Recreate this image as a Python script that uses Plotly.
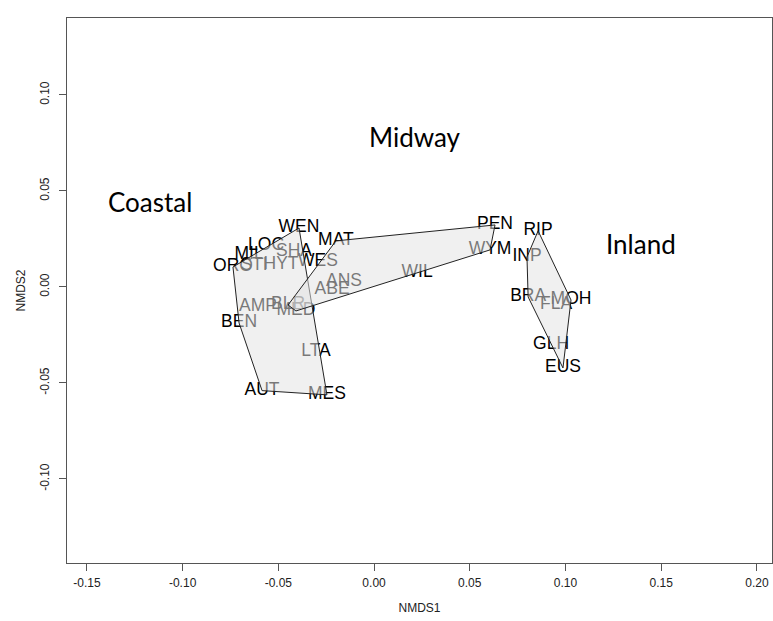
import plotly.graph_objects as go

# Site scores (NMDS1, NMDS2)
sites = ["ORO", "MIL", "LOC", "WEN", "SHA", "STI", "HYT", "WES", "MAT", "ANS", "ABE",
         "AMP", "BLR", "MED", "BEN", "LTA", "AUT", "MES", "PEN", "WYM", "WIL",
         "RIP", "INP", "BRA", "MOH", "FLA", "GLH", "EUS"]
nmds1 = [-0.0737, -0.0653, -0.0564, -0.0392, -0.0418, -0.0627, -0.0486, -0.0293, -0.0199, -0.0157, -0.0219,
         -0.0606, -0.0449, -0.0408, -0.0705, -0.0303, -0.0585, -0.0246, 0.0632, 0.0606, 0.0225,
         0.0857, 0.0799, 0.0805, 0.1029, 0.0951, 0.0925, 0.0987]
nmds2 = [0.0104, 0.0167, 0.0214, 0.0307, 0.0182, 0.0109, 0.0115, 0.0130, 0.0240, 0.0026, -0.0016,
         -0.0104, -0.0094, -0.0125, -0.0188, -0.0335, -0.0540, -0.0562, 0.0323, 0.0193, 0.0073,
         0.0292, 0.0156, -0.0052, -0.0068, -0.0094, -0.0300, -0.0422]

# Hull vertices of each group (site names, in drawing order)
hull_coastal = ["ORO", "WEN", "MES", "AUT", "BEN"]
hull_midway = ["MAT", "PEN", "WYM", "WIL", "MED", "BLR"]
hull_inland = ["RIP", "MOH", "EUS", "BRA", "INP"]

# Group labels
group_names = ["Coastal", "Midway", "Inland"]
group_x = [-0.1170, 0.0214, 0.1395]
group_y = [0.0443, 0.0781, 0.0224]

# Axis ticks
x_ticks = [-0.15, -0.10, -0.05, 0.00, 0.05, 0.10, 0.15, 0.20]
x_tick_labels = ["-0.15", "-0.10", "-0.05", "0.00", "0.05", "0.10", "0.15", "0.20"]
y_ticks = [-0.10, -0.05, 0.00, 0.05, 0.10]
y_tick_labels = ["-0.10", "-0.05", "0.00", "0.05", "0.10"]

pos = {s: (x, y) for s, x, y in zip(sites, nmds1, nmds2)}

fig = go.Figure()

# Site labels (drawn first, hulls are drawn semi-transparent over them)
fig.add_trace(go.Scatter(
    x=nmds1, y=nmds2, text=sites, mode="text",
    textposition="middle center",
    textfont=dict(family="Liberation Sans, Arial, sans-serif", size=17.5, color="#000000"),
    hoverinfo="text", showlegend=False,
))

for hull in [hull_coastal, hull_midway, hull_inland]:
    hx = [pos[s][0] for s in hull] + [pos[hull[0]][0]]
    hy = [pos[s][1] for s in hull] + [pos[hull[0]][1]]
    fig.add_trace(go.Scatter(
        x=hx, y=hy, mode="lines", fill="toself",
        fillcolor="rgba(226,226,226,0.53)",
        line=dict(color="#222222", width=1),
        hoverinfo="skip", showlegend=False,
    ))

for name, gx, gy in zip(group_names, group_x, group_y):
    fig.add_annotation(
        x=gx, y=gy, xref="x", yref="y", text=name, showarrow=False,
        font=dict(family="Lato, Open Sans, sans-serif", size=26, color="#000000"),
        xanchor="center", yanchor="middle",
    )

axis_common = dict(
    showgrid=False, zeroline=False, showline=True, mirror=True,
    linecolor="#555555", linewidth=1, automargin=False,
    ticks="outside", ticklen=7, tickwidth=1, tickcolor="#555555",
    tickfont=dict(family="Liberation Sans, Arial, sans-serif", size=12, color="#222222"),
)

fig.update_layout(
    width=773, height=621,
    margin=dict(l=67, r=1, t=18, b=58),
    paper_bgcolor="white", plot_bgcolor="white",
    xaxis=dict(range=[-0.1604, 0.2079], tickvals=x_ticks, ticktext=x_tick_labels,
               ticklabelstandoff=2,
               title=dict(text="NMDS1", standoff=14,
                          font=dict(family="Liberation Sans, Arial, sans-serif", size=12, color="#222222")),
               **axis_common),
    yaxis=dict(range=[-0.1438, 0.1401], tickvals=y_ticks, ticktext=y_tick_labels,
               tickangle=-90, ticklabelstandoff=5,
               title=dict(text="NMDS2", standoff=10,
                          font=dict(family="Liberation Sans, Arial, sans-serif", size=12, color="#222222")),
               **axis_common),
)

fig.write_html("out.html", config={"displayModeBar": False},
               post_script="document.body.style.margin='0';")
